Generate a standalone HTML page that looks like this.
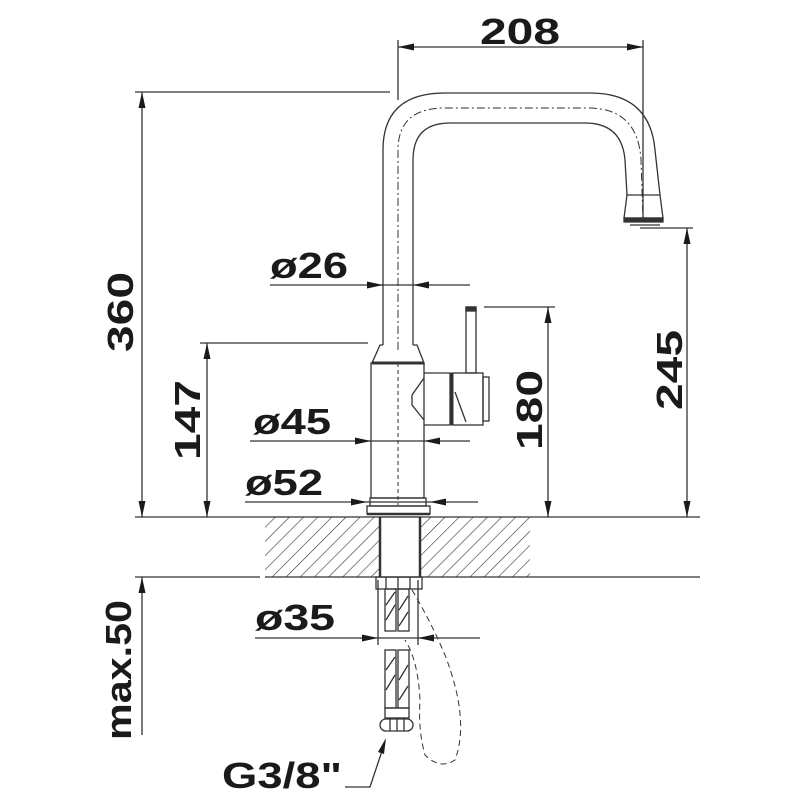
<!DOCTYPE html>
<html><head><meta charset="utf-8"><style>html,body{margin:0;padding:0;background:#fff}svg{display:block}</style></head><body>
<svg width="800" height="800" viewBox="0 0 800 800" xmlns="http://www.w3.org/2000/svg">
<defs>
<pattern id="h" patternUnits="userSpaceOnUse" width="10" height="10" patternTransform="rotate(45)">
<line x1="0" y1="0" x2="0" y2="10" stroke="#333" stroke-width="1.2"/>
</pattern>
</defs>
<g font-family="Liberation Sans, sans-serif" font-weight="bold" font-size="36" fill="#1a1a1a">
<text x="480" y="44" textLength="80" lengthAdjust="spacingAndGlyphs">208</text>
<text transform="translate(133,352) rotate(-90)" textLength="80" lengthAdjust="spacingAndGlyphs">360</text>
<text x="270" y="278" textLength="78" lengthAdjust="spacingAndGlyphs">ø26</text>
<text transform="translate(200,460) rotate(-90)" textLength="80" lengthAdjust="spacingAndGlyphs">147</text>
<text x="253" y="434" textLength="78" lengthAdjust="spacingAndGlyphs">ø45</text>
<text x="245" y="495" textLength="78" lengthAdjust="spacingAndGlyphs">ø52</text>
<text transform="translate(542,450) rotate(-90)" textLength="80" lengthAdjust="spacingAndGlyphs">180</text>
<text transform="translate(682,410) rotate(-90)" textLength="80" lengthAdjust="spacingAndGlyphs">245</text>
<text x="255" y="630" textLength="80" lengthAdjust="spacingAndGlyphs">ø35</text>
<text transform="translate(131,740) rotate(-90)" textLength="140" lengthAdjust="spacingAndGlyphs">max.50</text>
<text x="222" y="788" textLength="120" lengthAdjust="spacingAndGlyphs">G3/8"</text>
</g>
<g stroke="#333" stroke-width="1.3" fill="none">
<line x1="398" y1="40" x2="398" y2="100"/><line x1="643" y1="40" x2="643" y2="218"/>
<line x1="398" y1="47" x2="643" y2="47"/>
<line x1="135" y1="92" x2="390" y2="92"/>
<line x1="142" y1="92" x2="142" y2="517"/>
<line x1="135" y1="517" x2="700" y2="517"/>
<line x1="135" y1="577" x2="260" y2="577"/>
<line x1="142" y1="577" x2="142" y2="735"/>
<line x1="270" y1="285" x2="470" y2="285"/>
<line x1="200" y1="343" x2="368" y2="343"/><line x1="207" y1="343" x2="207" y2="517"/>
<line x1="250" y1="441" x2="470" y2="441"/>
<line x1="245" y1="502" x2="478" y2="502"/>
<line x1="484" y1="307" x2="555" y2="307"/><line x1="548" y1="307" x2="548" y2="517"/>
<line x1="640" y1="228" x2="693" y2="228"/><line x1="687" y1="228" x2="687" y2="517"/>
<line x1="255" y1="638" x2="480" y2="638"/>
<line x1="378" y1="580" x2="378" y2="645"/><line x1="418" y1="580" x2="418" y2="645"/>
<rect x="265" y="517" width="115" height="60" fill="url(#h)" stroke="none"/>
<rect x="420" y="517" width="110" height="60" fill="url(#h)" stroke="none"/>
<line x1="265" y1="577" x2="700" y2="577"/>
<path d="M383 345 L383 150 Q383 93 445 93 L590 93 Q650 93 655 150 L660 195"/>
<path d="M413 345 L413 160 Q413 123 450 123 L585 123 Q622 123 625 160 L627 195"/>
<path d="M398 350 L398 150 Q398 108 445 108 L588 108 Q638 108 641 160 L643 220" stroke-dasharray="8 3 2 3" stroke-width="1"/>
<path d="M627 195 L660 195 L663 218 L624 218 Z"/>
<path d="M624 218 L663 218 L663 222 L624 222 Z" fill="#333"/>
<line x1="630" y1="225" x2="660" y2="225"/>
<path d="M383 345 L380 345 L372 363 L424 363 L417 345 L413 345"/>
<line x1="372" y1="363" x2="424" y2="363" stroke-width="3"/>
<rect x="371" y="363" width="53" height="135"/>
<line x1="398" y1="363" x2="398" y2="505" stroke-dasharray="4 3" stroke-width="1"/>
<path d="M424 378 L412 395 L412 405 L424 420"/>
<path d="M424 373 L450 373 L450 425 L424 425"/>
<line x1="452" y1="373" x2="452" y2="425" stroke-width="3"/>
<path d="M455 392 L466 422"/>
<rect x="452" y="373" width="31" height="52"/>
<rect x="483" y="377" width="6" height="44"/>
<rect x="466" y="307" width="10" height="66"/>
<rect x="466" y="307" width="10" height="4" fill="#333"/>
<rect x="370" y="498" width="56" height="8"/>
<rect x="367" y="506" width="63" height="8"/>
<line x1="367" y1="514" x2="430" y2="514" stroke-width="2.5"/>
<rect x="380" y="517" width="40" height="60" fill="#fff"/>
<line x1="380" y1="517" x2="380" y2="577" stroke-width="2.5"/>
<line x1="420" y1="517" x2="420" y2="577" stroke-width="2.5"/>
<rect x="376" y="577" width="46" height="12"/>
<line x1="386" y1="577" x2="386" y2="589"/><line x1="398" y1="577" x2="398" y2="589"/><line x1="410" y1="577" x2="410" y2="589"/>
<rect x="385" y="589" width="11" height="42"/><rect x="398" y="589" width="11" height="42"/>
<path d="M386 620 L395 605 M399 610 L408 596 M386 605 L395 592 M399 626 L408 612"/>
<rect x="385" y="650" width="11" height="58"/><rect x="398" y="650" width="11" height="58"/>
<path d="M386 690 L395 675 M399 680 L408 665 M386 670 L395 657 M399 700 L408 686"/>
<rect x="385" y="708" width="24" height="10"/>
<rect x="380" y="719" width="33" height="12" rx="6"/>
<line x1="390" y1="719" x2="390" y2="731"/><line x1="397" y1="719" x2="397" y2="731"/><line x1="404" y1="719" x2="404" y2="731"/>
<path d="M412 590 Q430 620 445 655 Q470 720 455 760 Q440 770 425 755 Q418 730 420 700 Q418 660 405 640" stroke-dasharray="6 4" stroke-width="1"/>
<path d="M345 787 L370 787 L385 742"/>
</g>
<g fill="#1a1a1a">
<polygon points="398,47 414,43.5 414,50.5"/><polygon points="643,47 627,43.5 627,50.5"/>
<polygon points="142,92 138.5,108 145.5,108"/><polygon points="142,517 138.5,501 145.5,501"/>
<polygon points="142,577 138.5,593 145.5,593"/>
<polygon points="383,285 367,281.5 367,288.5"/><polygon points="413,285 429,281.5 429,288.5"/>
<polygon points="207,343 203.5,359 210.5,359"/><polygon points="207,517 203.5,501 210.5,501"/>
<polygon points="371,441 355,437.5 355,444.5"/><polygon points="424,441 440,437.5 440,444.5"/>
<polygon points="367,502 351,498.5 351,505.5"/><polygon points="430,502 446,498.5 446,505.5"/>
<polygon points="548,307 544.5,323 551.5,323"/><polygon points="548,517 544.5,501 551.5,501"/>
<polygon points="687,228 683.5,244 690.5,244"/><polygon points="687,517 683.5,501 690.5,501"/>
<polygon points="378,638 362,634.5 362,641.5"/><polygon points="418,638 434,634.5 434,641.5"/>
<polygon points="386,738 378,752 384,754"/>
</g>
</svg>
</body></html>
